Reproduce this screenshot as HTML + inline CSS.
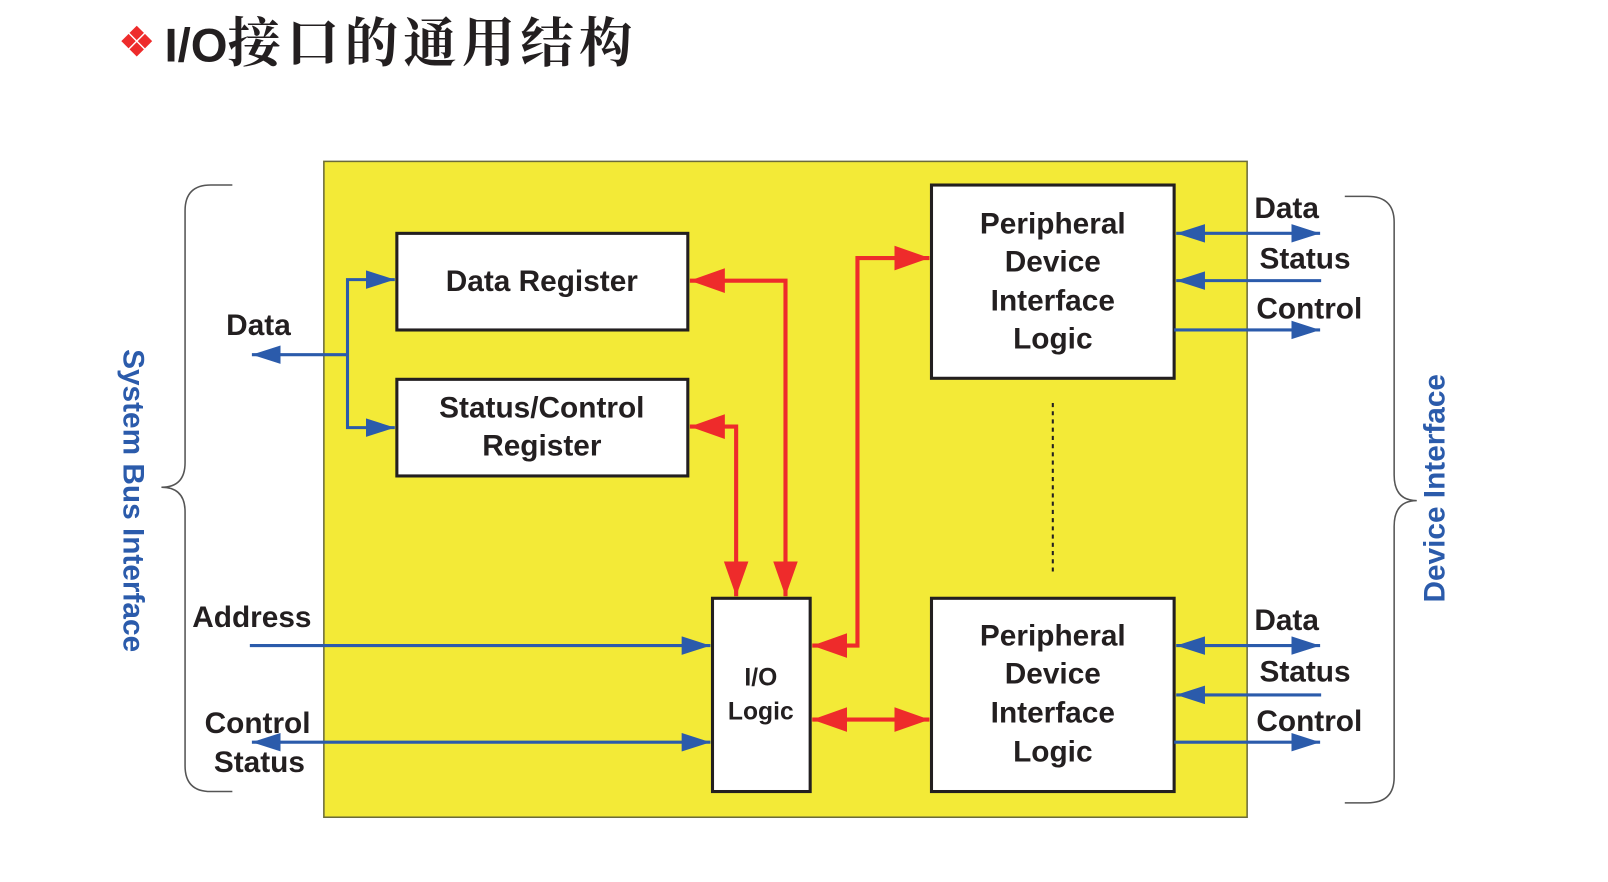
<!DOCTYPE html>
<html><head><meta charset="utf-8"><style>
html,body{margin:0;padding:0;background:#fff;}
svg{display:block;}
text{font-family:"Liberation Sans","Noto Sans CJK SC",sans-serif;font-weight:bold;}
</style></head><body>
<svg width="1608" height="882" viewBox="0 0 1564 858" preserveAspectRatio="none" xmlns="http://www.w3.org/2000/svg">
<defs>
<marker id="b" markerUnits="userSpaceOnUse" markerWidth="30" markerHeight="20" refX="28" refY="9" orient="auto-start-reverse"><path d="M0,0 L28,9 L0,18 Z" fill="#2b5bab"/></marker>
<marker id="r" markerUnits="userSpaceOnUse" markerWidth="36" markerHeight="26" refX="34" refY="12" orient="auto-start-reverse"><path d="M0,0 L34,12 L0,24 Z" fill="#ee2b2b"/></marker>
</defs>
<g fill="#ee2b2b">
<path d="M133,25 L140,32 L133,39 L126,32Z"/><path d="M133,41 L140,48 L133,55 L126,48Z"/>
<path d="M125,33 L132,40 L125,47 L118,40Z"/><path d="M141,33 L148,40 L141,47 L134,40Z"/>
</g>
<text x="160" y="60" font-size="46" fill="#231f20">I/O<tspan font-family="Noto Serif CJK SC,serif" font-size="52" letter-spacing="5">接口的通用结构</tspan></text>
<rect x="315" y="157" width="898" height="638" fill="#f3ea37" stroke="#6b6b3a" stroke-width="1.5"/>
<g fill="#fff" stroke="#231f20" stroke-width="3">
<rect x="386" y="227" width="283" height="94"/>
<rect x="386" y="369" width="283" height="94"/>
<rect x="906" y="180" width="236" height="188"/>
<rect x="906" y="582" width="236" height="188"/>
<rect x="693" y="582" width="95" height="188"/>
</g>
<g fill="#231f20" font-size="29" text-anchor="middle">
<text x="527" y="283">Data Register</text>
<text x="527" y="406">Status/Control</text>
<text x="527" y="443">Register</text>
<text x="1024" y="227">Peripheral</text><text x="1024" y="264">Device</text><text x="1024" y="302">Interface</text><text x="1024" y="339">Logic</text>
<text x="1024" y="628">Peripheral</text><text x="1024" y="665">Device</text><text x="1024" y="703">Interface</text><text x="1024" y="741">Logic</text>
<text x="740" y="667" font-size="24">I/O</text><text x="740" y="700" font-size="24">Logic</text>
</g>
<line x1="1024" y1="392" x2="1024" y2="556" stroke="#231f20" stroke-width="2" stroke-dasharray="4,4"/>
<g fill="none" stroke="#ee2b2b" stroke-width="4">
<polyline points="764,580 764,273 671,273" marker-start="url(#r)" marker-end="url(#r)"/>
<polyline points="716,580 716,415 671,415" marker-start="url(#r)" marker-end="url(#r)"/>
<polyline points="790,628 834,628 834,251 904,251" marker-start="url(#r)" marker-end="url(#r)"/>
<line x1="790" y1="700" x2="904" y2="700" marker-start="url(#r)" marker-end="url(#r)"/>
</g>
<g fill="none" stroke="#2b5bab" stroke-width="3">
<line x1="338" y1="345" x2="245" y2="345" marker-end="url(#b)"/>
<polyline points="384,272 338,272 338,416 384,416" marker-start="url(#b)" marker-end="url(#b)"/>
<line x1="243" y1="628" x2="691" y2="628" marker-end="url(#b)"/>
<line x1="245" y1="722" x2="691" y2="722" marker-start="url(#b)" marker-end="url(#b)"/>
<line x1="1144" y1="227" x2="1284" y2="227" marker-start="url(#b)" marker-end="url(#b)"/>
<line x1="1285" y1="273" x2="1144" y2="273" marker-end="url(#b)"/>
<line x1="1142" y1="321" x2="1284" y2="321" marker-end="url(#b)"/>
<line x1="1144" y1="628" x2="1284" y2="628" marker-start="url(#b)" marker-end="url(#b)"/>
<line x1="1285" y1="676" x2="1144" y2="676" marker-end="url(#b)"/>
<line x1="1142" y1="722" x2="1284" y2="722" marker-end="url(#b)"/>
</g>
<g fill="#231f20" font-size="29">
<text x="220" y="326">Data</text>
<text x="187" y="610">Address</text>
<text x="199" y="713">Control</text>
<text x="208" y="751">Status</text>
<text x="1220" y="212">Data</text><text x="1225" y="261">Status</text><text x="1222" y="310">Control</text>
<text x="1220" y="613">Data</text><text x="1225" y="663">Status</text><text x="1222" y="711">Control</text>
</g>
<g fill="none" stroke="#555" stroke-width="1.5">
<path d="M226,180 L205,180 Q180,180 180,205 L180,450 Q180,474 157,474 Q180,474 180,498 L180,745 Q180,770 205,770 L226,770"/>
<path d="M1308,191 L1330,191 Q1356,191 1356,216 L1356,462 Q1356,487 1378,487 Q1356,487 1356,512 L1356,756 Q1356,781 1330,781 L1308,781"/>
</g>
<text transform="translate(120,487) rotate(90)" text-anchor="middle" font-size="29" fill="#2b5bab">System Bus Interface</text>
<text transform="translate(1405,475) rotate(-90)" text-anchor="middle" font-size="29" fill="#2b5bab">Device Interface</text>
</svg>
</body></html>
